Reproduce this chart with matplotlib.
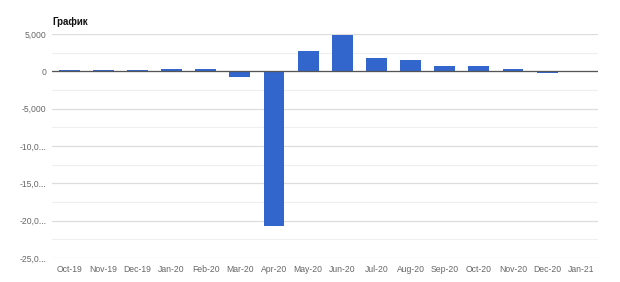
import matplotlib
matplotlib.use("Agg")
import matplotlib.pyplot as plt
from matplotlib.ticker import FixedLocator, MultipleLocator

categories = ["Oct-19", "Nov-19", "Dec-19", "Jan-20", "Feb-20", "Mar-20", "Apr-20", "May-20",
              "Jun-20", "Jul-20", "Aug-20", "Sep-20", "Oct-20", "Nov-20", "Dec-20", "Jan-21"]
values = [120, 220, 150, 280, 280, -750, -20700, 2700, 4800, 1750, 1500, 650, 650, 300, -200, -60]
yticks = [5000, 0, -5000, -10000, -15000, -20000, -25000]
ytick_labels = ["5,000", "0", "-5,000", "-10,0...", "-15,0...", "-20,0...", "-25,0..."]

plt.rcParams['font.family'] = ['Liberation Sans', 'DejaVu Sans']
fig = plt.figure(figsize=(6.2, 2.82), dpi=100)
ax = fig.add_axes([0.084, 0.085, 0.881, 0.795])

x = range(len(categories))
ax.bar(x, values, width=0.61, color="#3366cc", zorder=3)
ax.set_xlim(-0.5, len(categories) - 0.5)
ax.set_ylim(-25000, 5000)
ax.yaxis.set_major_locator(FixedLocator(yticks))
ax.set_yticklabels(ytick_labels)
ax.yaxis.set_minor_locator(MultipleLocator(2500))
ax.set_xticks(list(x))
ax.set_xticklabels(categories)
ax.grid(axis='y', which='major', color="#dddddd", linewidth=0.9, zorder=0)
ax.grid(axis='y', which='minor', color="#efefef", linewidth=0.8, zorder=0)
ax.axhline(0, color="#555555", linewidth=0.9, zorder=4)
for s in ax.spines.values():
    s.set_visible(False)
ax.tick_params(axis='both', which='both', length=0, labelsize=6.2, labelcolor="#666666")
ax.tick_params(axis='y', pad=4)
ax.tick_params(axis='x', pad=5)
fig.text(0.084, 0.905, "График", fontsize=7, fontweight='bold', color="#111111", ha='left', va='bottom')
fig.savefig("out.png", dpi=100)
